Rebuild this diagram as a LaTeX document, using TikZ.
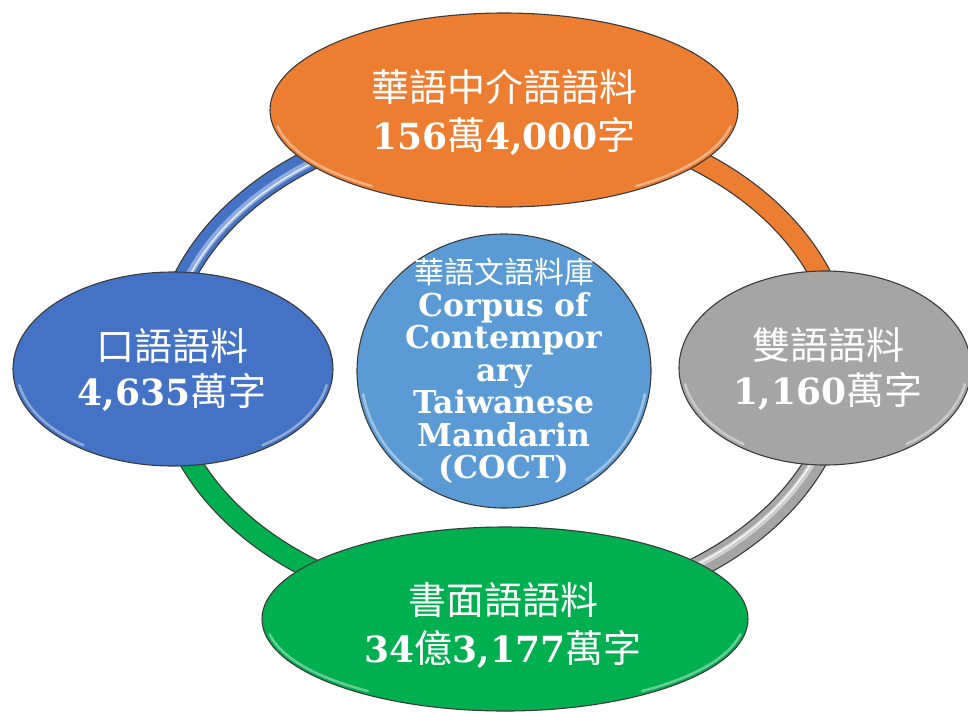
\documentclass[tikz,border=0pt]{standalone}
\usepackage{fontspec}
\setmainfont{DejaVu Serif}
\newfontfamily\cjk{Noto Sans CJK TC}
\usetikzlibrary{shapes.geometric}
\definecolor{corange}{HTML}{ED7D31}
\definecolor{cblue}{HTML}{4472C4}
\definecolor{cgray}{HTML}{A5A5A5}
\definecolor{cgreen}{HTML}{00B050}
\definecolor{clight}{HTML}{5B9BD5}
\definecolor{edge}{HTML}{3A3A3A}
\newcommand\zh[1]{{\cjk\mdseries\fontsize{38}{45}\selectfont #1}}
\newcommand\zhs[1]{{\cjk\mdseries\fontsize{30}{32.5}\selectfont #1}}
\newcommand\mkglint[3]{%
  \draw[glint] (#1.center) ++(190:#2 and #3) arc[start angle=190, end angle=235, x radius=#2, y radius=#3];
  \draw[glint] (#1.center) ++(-55:#2 and #3) arc[start angle=-55, end angle=-10, x radius=#2, y radius=#3];}
\begin{document}
\begin{tikzpicture}[x=1pt,y=-1pt,
  blob/.style={ellipse, draw=edge, line width=1.1pt, inner sep=0pt},
  glint/.style={white, opacity=.4, line width=2.5pt, line cap=round},
  lbl/.style={text=white, align=center, inner sep=0pt, font=\bfseries\fontsize{36}{45}\selectfont},
  lblw/.style={lbl, font=\bfseries\fontsize{36}{48}\selectfont},
  lblc/.style={lbl, font=\bfseries\fontsize{31.5}{32.5}\selectfont},
  ringseg/.style={line width=19.5pt},
]
\useasboundingbox (0,0) rectangle (968,713);

% ring
\coordinate (rc) at (503,364);
\draw[line width=22pt, edge] (rc) ellipse [x radius=340pt, y radius=248pt];
\draw[ringseg, corange] (rc) ++(0:340pt and 248pt) arc[start angle=0, end angle=90, x radius=340pt, y radius=248pt];
\draw[ringseg, cblue] (rc) ++(90:340pt and 248pt) arc[start angle=90, end angle=180, x radius=340pt, y radius=248pt];
\draw[ringseg, cgreen] (rc) ++(180:340pt and 248pt) arc[start angle=180, end angle=270, x radius=340pt, y radius=248pt];
\draw[ringseg, cgray] (rc) ++(270:340pt and 248pt) arc[start angle=270, end angle=360, x radius=340pt, y radius=248pt];
% glossy stripes on blue and gray segments
\draw[line width=7pt, cblue!60!white] (rc) ++(90:337pt and 245pt) arc[start angle=90, end angle=180, x radius=337pt, y radius=245pt];
\draw[line width=1.6pt, white!85!cblue] (rc) ++(90:336pt and 244pt) arc[start angle=90, end angle=180, x radius=336pt, y radius=244pt];
\draw[line width=6pt, cgray!55!white] (rc) ++(270:338pt and 246pt) arc[start angle=270, end angle=360, x radius=338pt, y radius=246pt];
\draw[line width=1.4pt, white!90!cgray] (rc) ++(270:337pt and 245pt) arc[start angle=270, end angle=360, x radius=337pt, y radius=245pt];

% nodes
\node[blob, fill=corange, minimum width=468, minimum height=194] (top) at (504,110) {};
\node[blob, fill=cblue, minimum width=320, minimum height=194] (left) at (173,369) {};
\node[blob, fill=cgray, minimum width=292, minimum height=194] (right) at (825,368) {};
\node[blob, fill=cgreen, minimum width=486, minimum height=184] (bottom) at (505,619) {};
\node[blob, fill=clight, minimum width=294, minimum height=274] (mid) at (504,371) {};

\mkglint{top}{230pt}{93pt}
\mkglint{left}{156pt}{93pt}
\mkglint{right}{142pt}{93pt}
\mkglint{bottom}{239pt}{88pt}
\mkglint{mid}{143pt}{133pt}

% labels
\node[lblw] (topT) at (504,112) {\zh{華語中介語語料}\\156\zh{萬}4,000\zh{字}};
\node[lbl] (leftT) at (172,370) {\zh{口語語料}\\4,635\zh{萬字}};
\node[lbl] (rightT) at (828,369) {\zh{雙語語料}\\1,160\zh{萬字}};
\node[lblw] (bottomT) at (503,625) {\zh{書面語語料}\\34\zh{億}3,177\zh{萬字}};
\node[lblc] (midT) at (504,371) {\zhs{華語文語料庫}\\Corpus of\\Contempor\\ary\\Taiwanese\\Mandarin\\(COCT)};
\end{tikzpicture}
\end{document}
